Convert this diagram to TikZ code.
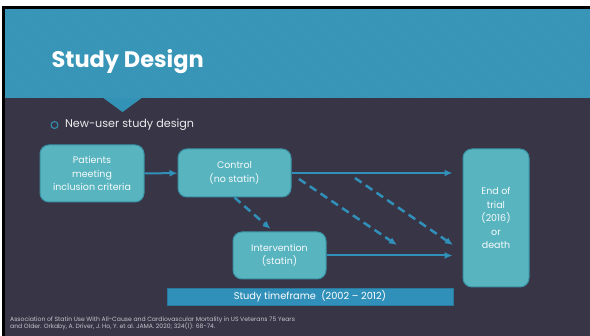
\documentclass[tikz,border=0pt]{standalone}
\usepackage{fontspec}
\setmainfont{Poppins}
\usetikzlibrary{positioning,arrows.meta}

\definecolor{slatebg}{HTML}{383646}
\definecolor{bandblue}{HTML}{3393B6}
\definecolor{boxteal}{HTML}{58B4BF}
\definecolor{boxedge}{HTML}{3A93A6}
\definecolor{arrowblue}{HTML}{3190BA}
\definecolor{notegray}{HTML}{C4C4CC}

\begin{document}
\begin{tikzpicture}[x=1pt,y=-1pt,line join=round,>={Latex[length=8pt,width=7pt]},
    box/.style={draw=boxedge,line width=1pt,fill=boxteal,rounded corners=9pt,
      text=white!95!boxteal,align=center,inner sep=0pt,
      font=\fontsize{9.5}{13.5}\selectfont},
    flow/.style={->,draw=arrowblue,line width=2pt},
    dashflow/.style={flow,line width=2.5pt,dash pattern=on 8pt off 5pt}]
  \useasboundingbox (0,0) rectangle (590,336);
  % slide frame and background
  \fill[white] (0,0) rectangle (590,336);
  \fill[black] (1.5,6) rectangle (590,336);
  \fill[slatebg] (5,9) rectangle (590,336);
  % title band with its notch
  \fill[bandblue] (5,9) rectangle (590,98);
  \fill[bandblue] (102,97) -- (143,97) -- (122.5,112) -- cycle;
  \begin{scope}
    \clip (5,9) rectangle (590,98);
    \foreach \i in {0,3,...,690} {
        \draw[white,opacity=0.06,line width=0.8pt] (\i-100,9) -- (\i-11,98);
      }
  \end{scope}
  \node[anchor=base west,text=white,font=\fontsize{22.5}{26}\selectfont\bfseries]
    (title) at (48,68) {Study Design};

  \node[circle,draw=bandblue,line width=1pt,minimum size=7pt,inner sep=0pt] (dot) at (54.5,125) {};
  \node[right=3pt of dot,text=white!90!slatebg,font=\fontsize{11.2}{13}\selectfont] (bullet) {New-user study design};

  % the four arms of the design
  \node[box,minimum width=104pt,minimum height=57pt] (pat) at (92,173.5) {Patients\\meeting\\inclusion\ criteria};
  \node[box,minimum width=113pt,minimum height=48pt] (ctl) at (234.5,173) {Control\\(no statin)};
  \node[box,minimum width=93pt,minimum height=47pt] (int) at (279.5,255.5) {Intervention\\(statin)};
  \node[box,minimum width=66pt,minimum height=138pt] (end) at (496,218) {End of\\trial\\(2016)\\or\\death};
  \node[draw=arrowblue!85!black,line width=0.6pt,fill=arrowblue,minimum width=286pt,minimum height=17pt,
    inner sep=0pt,text=white,font=\fontsize{9.8}{11}\selectfont] (span) at (310,296.5) {Study timeframe\ \ (2002 -- 2012)};

  \coordinate (c1) at (299,179);
  \coordinate (c2) at (397,245);
  \coordinate (c3) at (355,178);
  \coordinate (c4) at (453,245);

  \draw[flow] (pat) -- (ctl);
  \draw[flow,shorten >=10pt] (ctl.east) -- (ctl.east -| end.west);
  \draw[flow,shorten >=10pt] (int.east) -- (int.east -| end.west);
  \draw[dashflow,shorten >=4pt] (ctl.south) -- ([xshift=-6pt]int.north);
  \draw[dashflow] (c1) -- (c2);
  \draw[dashflow] (c3) -- (c4);

  \node[anchor=north west,align=left,text=notegray,inner sep=0pt,
    font=\fontsize{6.1}{7.5}\selectfont] (cite) at (10,316.5)
    {Association of Statin Use With All-Cause and Cardiovascular Mortality in US Veterans 75 Years\\
     and Older. Orkaby, A. Driver, J. Ho, Y. et al. JAMA. 2020; 324(1): 68-74.};
\end{tikzpicture}
\end{document}
